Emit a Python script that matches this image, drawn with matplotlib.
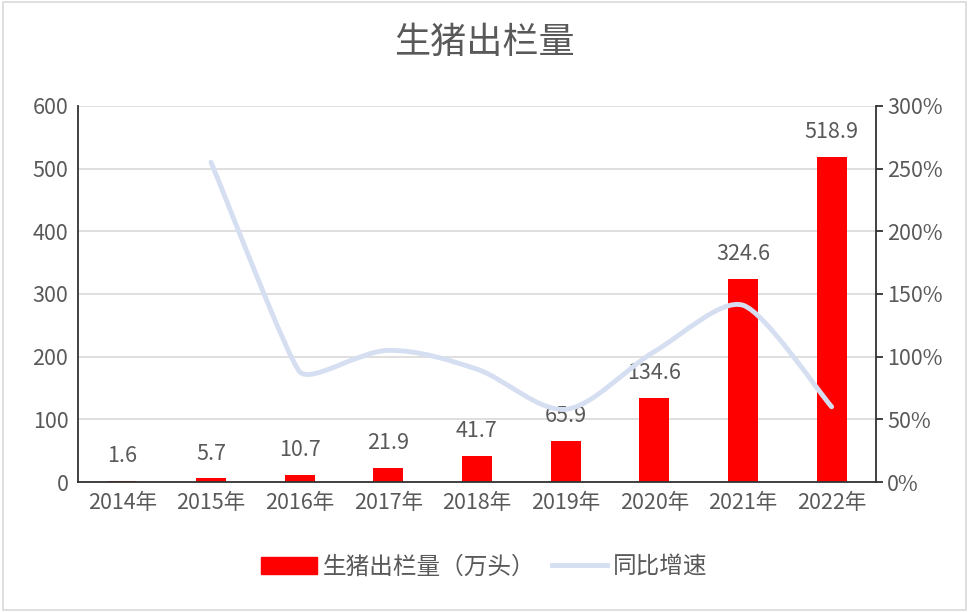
import matplotlib
matplotlib.use('Agg')
import matplotlib.pyplot as plt
from matplotlib.path import Path
from matplotlib.patches import PathPatch, Rectangle
from matplotlib.lines import Line2D
from matplotlib.ticker import FuncFormatter, MultipleLocator

plt.rcParams['font.family'] = ['Noto Sans CJK SC', 'DejaVu Sans']

years = ['2014年', '2015年', '2016年', '2017年', '2018年', '2019年', '2020年', '2021年', '2022年']
output = [1.6, 5.7, 10.7, 21.9, 41.7, 65.9, 134.6, 324.6, 518.9]
# growth rate (%), 2015 onwards
growth = [255, 88, 105, 90, 58, 104, 141, 60]

text_col = '#595959'
bar_col = '#FF0000'
line_col = '#D5DFF1'


def smooth_path(xs, ys, xscale=88.7, yscale=1.253):
    # smoothed line like excel: bezier segments, tangents damped where
    # neighbouring segments differ a lot in length (measured in pixels)
    n = len(xs)
    seg = []
    for i in range(n - 1):
        dx = (xs[i + 1] - xs[i]) * xscale
        dy = (ys[i + 1] - ys[i]) * yscale
        seg.append((dx * dx + dy * dy) ** 0.5)
    tx, ty = [], []
    for i in range(n):
        a, b = max(i - 1, 0), min(i + 1, n - 1)
        s = 1.0
        if 0 < i < n - 1:
            s = min(seg[i - 1], seg[i]) / max(seg[i - 1], seg[i])
        tx.append((xs[b] - xs[a]) / 6 * s)
        ty.append((ys[b] - ys[a]) / 6 * s)
    verts = [(xs[0], ys[0])]
    codes = [Path.MOVETO]
    for i in range(n - 1):
        verts += [(xs[i] + tx[i], ys[i] + ty[i]),
                  (xs[i + 1] - tx[i + 1], ys[i + 1] - ty[i + 1]),
                  (xs[i + 1], ys[i + 1])]
        codes += [Path.CURVE4] * 3
    return Path(verts, codes)


fig = plt.figure(figsize=(9.69, 6.12), dpi=100)
ax = fig.add_axes([0.0805, 0.2124, 0.8235, 0.6146])

x = list(range(len(years)))
ax.bar(x, output, width=0.34, color=bar_col, zorder=2)
for xi, v in zip(x, output):
    ax.annotate(f'{v}', (xi, v), xytext=(0, 10), textcoords='offset points',
                ha='center', va='bottom', fontsize=15.5, color=text_col)

ax.set_xlim(-0.5, len(years) - 0.5)
ax.set_ylim(0, 600)
ax.yaxis.set_major_locator(MultipleLocator(100))
ax.set_xticks(x)
ax.set_xticklabels(years)
ax.grid(axis='y', color='#D9D9D9', linewidth=1.2, zorder=0)
ax.set_axisbelow(True)
ax.tick_params(axis='both', length=0, labelsize=15.5, labelcolor=text_col, pad=7)
for s in ['top', 'right']:
    ax.spines[s].set_visible(False)
ax.spines['left'].set_color('#333333')
ax.spines['bottom'].set_color('#333333')
ax.spines['left'].set_linewidth(1.3)
ax.spines['bottom'].set_linewidth(1.3)

ax2 = ax.twinx()
ax2.set_ylim(0, 300)
ax2.yaxis.set_major_locator(MultipleLocator(50))
ax2.yaxis.set_major_formatter(FuncFormatter(lambda v, p: f'{int(v)}%'))
ax2.tick_params(axis='y', direction='out', length=5, width=1.3, color='#333333',
                labelsize=15.5, labelcolor=text_col, pad=3)
for s in ['top', 'left', 'bottom']:
    ax2.spines[s].set_visible(False)
ax2.spines['right'].set_color('#333333')
ax2.spines['right'].set_linewidth(1.3)

gx = x[1:]
ax2.add_patch(PathPatch(smooth_path(gx, growth), facecolor='none',
                        edgecolor=line_col, linewidth=3.5, capstyle='round', zorder=3))

fig.suptitle('生猪出栏量', y=0.96, fontsize=26, color=text_col)

handles = [Rectangle((0, 0), 1, 1, color=bar_col),
           Line2D([0], [0], color=line_col, linewidth=3.5)]
fig.legend(handles, ['生猪出栏量（万头）', '同比增速'], loc='center', ncol=2,
           bbox_to_anchor=(0.5, 0.073), frameon=False, fontsize=17,
           labelcolor=text_col, handlelength=2.35, handleheight=0.75,
           columnspacing=0.7, handletextpad=0.25)

fig.patches.append(Rectangle((0.003, 0.003), 0.994, 0.994, transform=fig.transFigure,
                             fill=False, edgecolor='#D9D9D9', linewidth=1.2))

fig.savefig('out.png', dpi=100)
